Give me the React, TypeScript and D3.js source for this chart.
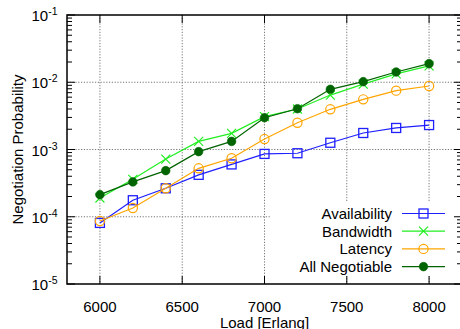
import React from "react";
import * as d3 from "d3";

// load points [Erlang]
const loads = [6000, 6200, 6400, 6600, 6800, 7000, 7200, 7400, 7600, 7800, 8000];

// negotiation probability per series
const availability = [8.1e-5, 1.76e-4, 2.65e-4, 4.2e-4, 6.0e-4, 8.6e-4, 8.8e-4, 1.26e-3, 1.76e-3, 2.09e-3, 2.31e-3];
const bandwidth = [1.9e-4, 3.6e-4, 7.2e-4, 1.32e-3, 1.74e-3, 3.08e-3, 4.0e-3, 6.45e-3, 9.4e-3, 1.33e-2, 1.75e-2];
const latency = [8.65e-5, 1.35e-4, 2.65e-4, 5.25e-4, 7.4e-4, 1.43e-3, 2.5e-3, 3.96e-3, 5.57e-3, 7.5e-3, 8.8e-3];
const allNegotiable = [2.13e-4, 3.3e-4, 4.85e-4, 9.3e-4, 1.32e-3, 2.97e-3, 4.04e-3, 7.85e-3, 1.02e-2, 1.42e-2, 1.89e-2];

const xTicks = [6000, 6500, 7000, 7500, 8000];
const yExponents = [-1, -2, -3, -4, -5];

const seriesNames = ["Availability", "Bandwidth", "Latency", "All Negotiable"];

const FONT = "'Liberation Sans', Arial, Helvetica, sans-serif";
const W = 460;
const H = 329;

type Marker = "square" | "cross" | "circle" | "dot";

function MarkerShape({ type, cx, cy, color }: { type: Marker; cx: number; cy: number; color: string }) {
    if (type === "square") {
        return <rect x={cx - 4.5} y={cy - 4.5} width={9} height={9} fill="none" stroke={color} strokeWidth={1.3} />;
    }
    if (type === "circle") {
        return <circle cx={cx} cy={cy} r={4.6} fill="none" stroke={color} strokeWidth={1.2} />;
    }
    if (type === "cross") {
        return (
            <g stroke={color} strokeWidth={1.2}>
                <line x1={cx - 4.5} y1={cy - 4.5} x2={cx + 4.5} y2={cy + 4.5} />
                <line x1={cx - 4.5} y1={cy + 4.5} x2={cx + 4.5} y2={cy - 4.5} />
            </g>
        );
    }
    return <circle cx={cx} cy={cy} r={4.3} fill={color} stroke={color} strokeWidth={0.6} />;
}

export default function App() {
    const margin = { left: 67, top: 15, right: 462, bottom: 284 };

    const x = d3.scaleLinear().domain([5800, 8200]).range([margin.left, margin.right]);
    const y = d3.scaleLog().domain([1e-5, 1e-1]).range([margin.bottom, margin.top]);

    const series = [
        { name: seriesNames[0], values: availability, color: "#1f1fff", marker: "square" as Marker },
        { name: seriesNames[1], values: bandwidth, color: "#22ee22", marker: "cross" as Marker },
        { name: seriesNames[2], values: latency, color: "#ffa500", marker: "circle" as Marker },
        { name: seriesNames[3], values: allNegotiable, color: "#006400", marker: "dot" as Marker },
    ];

    const line = d3.line<[number, number]>()
        .x(d => x(d[0]))
        .y(d => y(d[1]));

    // minor ticks on the log axis
    const minorY: number[] = [];
    for (let e = -5; e < -1; e++) {
        for (let m = 2; m <= 9; m++) minorY.push(m * Math.pow(10, e));
    }

    const legendX = 392;
    const legendY0 = 213.5;
    const legendDy = 17.7;

    return (
        <svg width={W} height={H} style={{ position: "absolute", left: 0, top: 0, background: "#fff" }}>
            <rect x={0} y={0} width={W} height={H} fill="#fff" />

            {/* grid */}
            <g stroke="#777" strokeWidth={1} strokeDasharray="1.2,1.6">
                {xTicks.map(t => (
                    <line key={"gx" + t} x1={x(t)} x2={x(t)} y1={margin.top} y2={margin.bottom} />
                ))}
                {yExponents.slice(1, 4).map(e => (
                    <line key={"gy" + e} x1={margin.left} x2={margin.right} y1={y(Math.pow(10, e))} y2={y(Math.pow(10, e))} />
                ))}
            </g>

            {/* legend blank area */}
            <rect x={271} y={201} width={margin.right - 271} height={75} fill="#fff" />

            {/* ticks */}
            <g stroke="#000" strokeWidth={1}>
                {xTicks.map(t => (
                    <g key={"tx" + t}>
                        <line x1={x(t)} x2={x(t)} y1={margin.bottom} y2={margin.bottom - 8} />
                        <line x1={x(t)} x2={x(t)} y1={margin.top} y2={margin.top + 8} />
                    </g>
                ))}
                {yExponents.map(e => (
                    <g key={"ty" + e}>
                        <line x1={margin.left} x2={margin.left + 8} y1={y(Math.pow(10, e))} y2={y(Math.pow(10, e))} />
                        <line x1={margin.right} x2={margin.right - 8} y1={y(Math.pow(10, e))} y2={y(Math.pow(10, e))} />
                    </g>
                ))}
                {minorY.map((v, i) => (
                    <g key={"my" + i}>
                        <line x1={margin.left} x2={margin.left + 5} y1={y(v)} y2={y(v)} />
                        <line x1={margin.right} x2={margin.right - 5} y1={y(v)} y2={y(v)} />
                    </g>
                ))}
            </g>

            {/* border */}
            <rect x={margin.left} y={margin.top} width={margin.right - margin.left} height={margin.bottom - margin.top}
                fill="none" stroke="#000" strokeWidth={1.5} />

            {/* tick labels */}
            <g fontFamily={FONT} fill="#000">
                {xTicks.map(t => (
                    <text key={"lx" + t} x={x(t)} y={311.5} fontSize={15} textAnchor="middle">{t}</text>
                ))}
                {yExponents.map(e => (
                    <text key={"ly" + e} x={57.5} y={y(Math.pow(10, e)) + 6} fontSize={15} textAnchor="end">
                        10<tspan fontSize={10.5} dy={-6}>{e}</tspan>
                    </text>
                ))}
                <text x={(margin.left + margin.right) / 2} y={327.5} fontSize={15} textAnchor="middle">Load [Erlang]</text>
                <text transform={`translate(23,${(margin.top + margin.bottom) / 2}) rotate(-90)`} fontSize={15} textAnchor="middle">
                    Negotiation Probability
                </text>
            </g>

            {/* series */}
            {series.map(s => {
                const pts = loads.map((l, i) => [l, s.values[i]] as [number, number]);
                return (
                    <g key={s.name}>
                        <path d={line(pts) || ""} fill="none" stroke={s.color} strokeWidth={1.2} />
                        {pts.map((p, i) => (
                            <MarkerShape key={i} type={s.marker} cx={x(p[0])} cy={y(p[1])} color={s.color} />
                        ))}
                    </g>
                );
            })}

            {/* legend */}
            <g fontFamily={FONT}>
                {series.map((s, i) => {
                    const ly = legendY0 + i * legendDy;
                    return (
                        <g key={"leg" + s.name}>
                            <text x={legendX} y={ly + 5.3} fontSize={15} textAnchor="end" fill="#000">{s.name}</text>
                            <line x1={402} x2={445} y1={ly} y2={ly} stroke={s.color} strokeWidth={1.2} />
                            <MarkerShape type={s.marker} cx={423.5} cy={ly} color={s.color} />
                        </g>
                    );
                })}
            </g>
        </svg>
    );
}
